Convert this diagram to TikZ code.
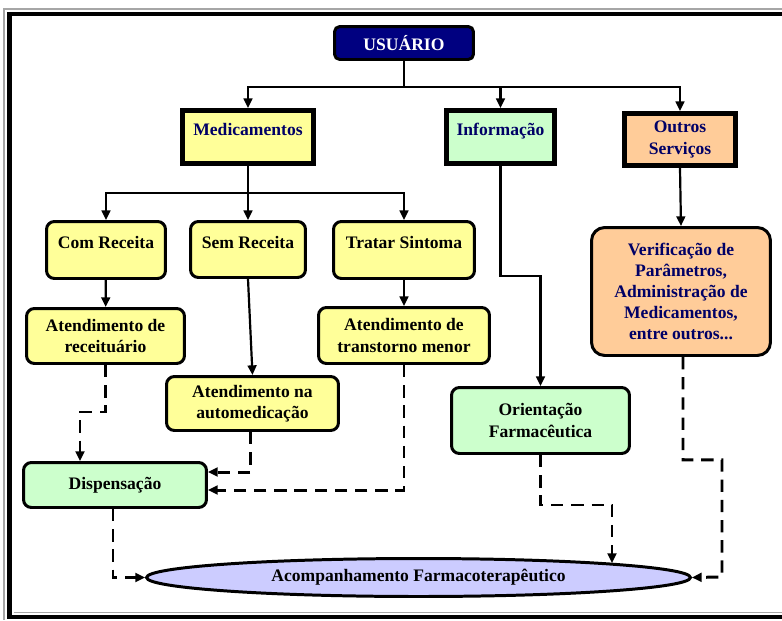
\documentclass[tikz,border=0pt]{standalone}
\usepackage{fontspec}
\setmainfont{Liberation Serif}
\usetikzlibrary{arrows.meta,calc,shapes.geometric}
\definecolor{usrblue}{HTML}{000080}
\definecolor{navytext}{HTML}{000066}
\definecolor{medyellow}{HTML}{FFFF99}
\definecolor{infgreen}{HTML}{CCFFCC}
\definecolor{outorange}{HTML}{FFCC99}
\definecolor{acolilac}{HTML}{CCCCFF}
\tikzset{
  topbox/.style={draw, line width=2.8pt, font=\bfseries, text=navytext,
    align=center, inner sep=0pt},
  flowbox/.style={draw, rounded corners=4.5pt, line width=1.7pt,
    font=\bfseries, align=center, inner sep=0pt},
  raised/.style={text depth=8.5pt},
  flowarr/.style={-{Triangle[length=5.5pt,width=5pt]}, line width=1.25pt},
  dasharr/.style={-{Triangle[length=5.5pt,width=5pt]}, line width=1.7pt,
    dash pattern=on 7pt off 4.5pt},
}

\begin{document}
\begin{tikzpicture}[x=0.02cm, y=-0.02cm]
  \useasboundingbox (0,0) rectangle (782,620);
  % Frame
  \draw[black!35, line width=0.7pt] (782,9) -| (4,620);
  \draw[line width=2.3pt] (782,14) -| (9.5,617) -- (782,617);
  \draw[black!35, line width=0.5pt] (13.5,612.5) -- (782,612.5);
  % Level 0
  \node[draw, rounded corners=3pt, line width=1.7pt, fill=usrblue,
    text=white, font=\bfseries, minimum width=2.78cm,
    minimum height=0.66cm] at (404,43) (usr) {USUÁRIO};
  % Level 1
  \node[topbox, raised, fill=medyellow, minimum width=2.62cm,
    minimum height=1.06cm] at (248,137) (med) {Medicamentos};
  \node[topbox, raised, fill=infgreen, minimum width=2.16cm,
    minimum height=1.06cm] at (500.5,137) (inf) {Informação};
  \node[topbox, fill=outorange, minimum width=2.22cm,
    minimum height=1.04cm] at (680,139.5) (out) {Outros\\Serviços};
  % Level 2
  \node[flowbox, raised, fill=medyellow, minimum width=2.38cm,
    minimum height=1.14cm] at (106,250) (com) {Com Receita};
  \node[flowbox, raised, fill=medyellow, minimum width=2.30cm,
    minimum height=1.12cm] at (248,249.5) (sem) {Sem Receita};
  \node[flowbox, raised, fill=medyellow, minimum width=2.82cm,
    minimum height=1.14cm] at (404,250) (tra) {Tratar Sintoma};
  \node[flowbox, fill=outorange, rounded corners=7.5pt, text=navytext,
    minimum width=3.58cm, minimum height=2.56cm] at (681,291.5) (ver)
    {Verificação de\\Parâmetros,\\Administração de\\Medicamentos,\\entre outros...};
  % Level 3
  \node[flowbox, fill=medyellow, minimum width=3.16cm,
    minimum height=1.10cm] at (105.5,336) (rec) {Atendimento de\\receituário};
  \node[flowbox, fill=medyellow, minimum width=3.42cm,
    minimum height=1.12cm] at (404,335.5) (tmen) {Atendimento de\\transtorno menor};
  \node[flowbox, fill=medyellow, minimum width=3.44cm,
    minimum height=1.08cm] at (252.5,403.5) (auto) {Atendimento na\\automedicação};
  \node[flowbox, fill=infgreen, minimum width=3.56cm,
    minimum height=1.32cm] at (540.5,420.5) (ori) {Orientação\\Farmacêutica};
  % Level 4
  \node[flowbox, fill=infgreen, minimum width=3.66cm,
    minimum height=0.90cm] at (115,485) (disp) {Dispensação};
  \node[ellipse, draw, line width=1.7pt, fill=acolilac, font=\bfseries,
    inner sep=0pt, minimum width=10.88cm, minimum height=0.76cm]
    at (418.5,577.5) (acomp) {Acompanhamento Farmacoterapêutico};
  % Solid edges
  \coordinate (usrj) at (404,87);
  \coordinate (medj) at (248,193);
  \draw[line width=1.25pt] (usr.south) -- (usrj);
  \draw[flowarr] (usrj) -| (med.north);
  \draw[flowarr] (usrj) -| (inf.north);
  \draw[flowarr] (usrj) -| (out.north);
  \draw[line width=1.25pt] (med.south) -- (medj);
  \draw[flowarr] (medj) -| (com.north);
  \draw[flowarr] (medj) -- (sem.north);
  \draw[flowarr] (medj) -| (tra.north);
  \draw[flowarr] (com) -- (rec);
  \draw[flowarr] (sem.south) -- (auto.north);
  \draw[flowarr] (tra) -- (tmen);
  \draw[flowarr] (inf.south) -- ++(0,110) -| (ori.north);
  \draw[flowarr] (out.south) -- (ver.north);
  % Dashed edges
  \draw[dasharr] (rec.south) -- ++(0,47) -| ($(disp.north)+(-35,0)$);
  \draw[dasharr] ($(auto.south)+(-2,0)$) |- ($(disp.east)+(0,-13)$);
  \draw[dasharr] (tmen.south) |- ($(disp.east)+(0,5)$);
  \draw[dasharr] ($(disp.south)+(-2,0)$) |- (acomp.west);
  \draw[dasharr] (ori.south) -- ++(0,50) -| ($(acomp.north)+(193.5,6)$);
  \draw[dasharr] ($(ver.south)+(2,0)$) -- ++(0,103) -| ++(39,117) -- (acomp.east);
\end{tikzpicture}
\end{document}
